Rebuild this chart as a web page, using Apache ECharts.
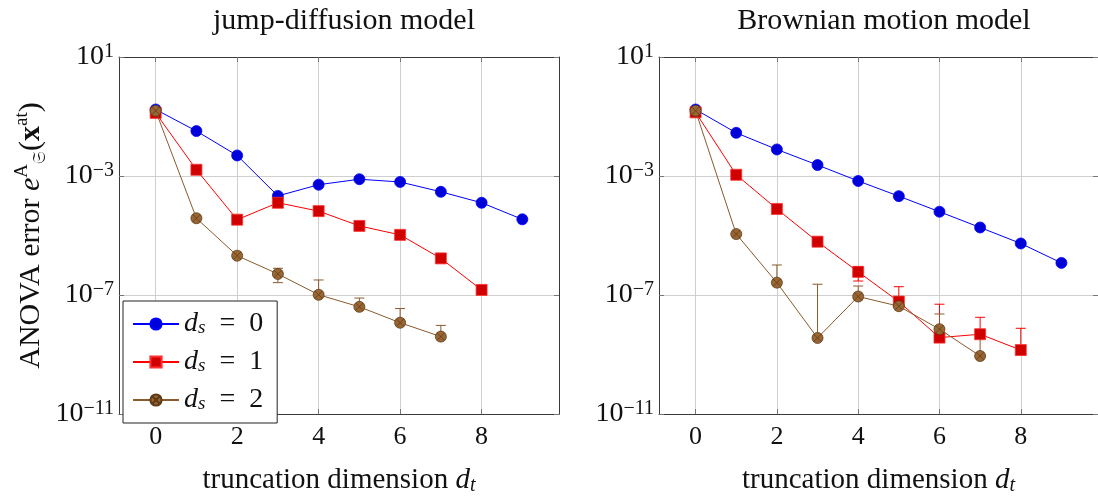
<!DOCTYPE html>
<html>
<head>
<meta charset="utf-8">
<script src="https://cdn.jsdelivr.net/npm/echarts@6/dist/echarts.min.js"></script>
<style>
  html, body { margin: 0; padding: 0; background: #fff; }
  #chart { width: 1098px; height: 501px; }
</style>
</head>
<body>
<div id="chart"></div>
<script>
// truncation dimension d_t
const dims = [0, 1, 2, 3, 4, 5, 6, 7, 8, 9];
const xTicks = [0, 2, 4, 6, 8];
const yTicks = [1e-11, 1e-7, 1e-3, 10];
const seriesNames = ['d_s = 0', 'd_s = 1', 'd_s = 2'];
const panelTitles = ['jump-diffusion model', 'Brownian motion model'];

// jump-diffusion model
const jdDs0 = [0.172, 0.0324, 4.9e-3, 2.14e-4, 5.1e-4, 7.8e-4, 6.3e-4, 2.95e-4, 1.26e-4, 3.5e-5];
const jdDs1 = [0.132, 1.62e-3, 3.4e-5, 1.26e-4, 6.6e-5, 2.1e-5, 1.05e-5, 1.7e-6, 1.48e-7];
const jdDs2 = [0.155, 3.8e-5, 2.1e-6, 5.1e-7, 1.02e-7, 4.0e-8, 1.17e-8, 4.0e-9];
const jdDs2Hi = [null, null, null, 7.9e-7, 3.2e-7, 7.9e-8, 3.5e-8, 9.5e-9];
const jdDs2Lo = [null, null, null, 2.6e-7, null, null, null, null];

// Brownian motion model
const bmDs0 = [0.172, 0.0282, 7.8e-3, 2.34e-3, 6.8e-4, 2.1e-4, 6.3e-5, 1.86e-5, 5.4e-6, 1.2e-6];
const bmDs1 = [0.138, 1.1e-3, 7.8e-5, 6.2e-6, 6.0e-7, 6.0e-8, 3.7e-9, 4.8e-9, 1.41e-9];
const bmDs1Hi = [null, null, null, null, 9.0e-7, 1.9e-7, 4.9e-8, 1.78e-8, 7.6e-9];
const bmDs1Lo = [null, null, null, null, 2.95e-7, null, null, null, null];
const bmDs2 = [0.155, 1.12e-5, 2.6e-7, 3.6e-9, 8.9e-8, 4.2e-8, 7.1e-9, 8.9e-10];
const bmDs2Hi = [null, null, 1.02e-6, 2.3e-7, 2.0e-7, 8.9e-8, 2.3e-8, 5e-9];
const bmDs2Lo = [null, null, null, null, null, null, null, null];

const FONT = "'Liberation Serif', 'DejaVu Serif', serif";
const frameColor = '#3a3a3a';
const gridColor = '#cfcfcf';

const styles = [
  { line: '#0000ff', fill: '#0000d8', border: '#0000ff', symbol: 'circle', size: 11 },
  { line: '#ff0000', fill: '#d00000', border: '#ff3030', symbol: 'rect', size: 11 },
  { line: '#8a5a2b', fill: '#996633', border: '#5e3b18',
    symbol: 'path://M10,5A5,5,0,1,1,0,5A5,5,0,1,1,10,5ZM1.46,1.46L8.54,8.54M8.54,1.46L1.46,8.54', size: 11 }
];

const chart = echarts.init(document.getElementById('chart'), null, { renderer: 'canvas' });

const grids = [
  { left: 119, top: 57, width: 440, height: 363 },
  { left: 659, top: 57, width: 440, height: 363 }
];

function supExp(v) {
  const e = Math.round(Math.log10(v));
  return '{b|10}{p|' + String(e).replace('-', '\u2212') + '}';
}

function xAxes(gi) {
  return [
    {
      type: 'value', gridIndex: gi, min: -0.9, max: 9.9, position: 'bottom',
      axisLine: { show: true, onZero: false, lineStyle: { color: frameColor, width: 1 } },
      axisTick: { show: true, inside: true, length: 5, customValues: xTicks, lineStyle: { color: '#777' } },
      axisLabel: { show: true, customValues: xTicks, margin: 10, fontFamily: FONT, fontSize: 26, color: '#111' },
      splitLine: { show: true, lineStyle: { color: gridColor, width: 1 } },
      name: '{n|truncation dimension }{i|d}{s|t}',
      nameLocation: 'middle', nameGap: 50,
      nameTextStyle: {
        fontFamily: FONT, color: '#111',
        rich: {
          n: { fontFamily: FONT, fontSize: 29, lineHeight: 32, color: '#111' },
          i: { fontFamily: FONT, fontSize: 29, fontStyle: 'italic', lineHeight: 32, color: '#111' },
          s: { fontFamily: FONT, fontSize: 20, fontStyle: 'italic', lineHeight: 16, verticalAlign: 'bottom', color: '#111' }
        }
      }
    },
    {
      type: 'value', gridIndex: gi, min: -0.9, max: 9.9, position: 'top',
      axisLine: { show: true, onZero: false, lineStyle: { color: frameColor, width: 1 } },
      axisTick: { show: true, inside: true, length: 5, customValues: xTicks, lineStyle: { color: '#777' } },
      axisLabel: { show: false },
      splitLine: { show: false }
    }
  ];
}

function yAxes(gi, withName) {
  const main = {
    type: 'log', logBase: 10, gridIndex: gi, min: 1e-11, max: 10, position: 'left',
    axisLine: { show: true, onZero: false, lineStyle: { color: frameColor, width: 1 } },
    axisTick: { show: true, inside: true, length: 5, customValues: yTicks, lineStyle: { color: '#777' } },
    axisLabel: {
      show: true, customValues: yTicks, margin: 5, formatter: supExp,
      rich: {
        b: { fontFamily: FONT, fontSize: 28, lineHeight: 30, color: '#111' },
        p: { fontFamily: FONT, fontSize: 20, lineHeight: 20, verticalAlign: 'top', color: '#111' }
      }
    },
    splitLine: { show: true, lineStyle: { color: gridColor, width: 1 } },
    minorTick: { show: false }
  };
  if (withName) {
    main.name = '{n|ANOVA error }{i|e}{p|A}{s|\u{1D516}}{n|(}{x|x}{p|at}{n|)}';
    main.nameLocation = 'middle';
    main.nameGap = 70;
    main.nameRotate = 90;
    main.nameTextStyle = {
      fontFamily: FONT, color: '#111',
      rich: {
        n: { fontFamily: FONT, fontSize: 30, lineHeight: 36, color: '#111' },
        i: { fontFamily: FONT, fontSize: 30, fontStyle: 'italic', lineHeight: 36, color: '#111' },
        x: { fontFamily: FONT, fontSize: 30, fontWeight: 'bold', lineHeight: 36, color: '#111' },
        p: { fontFamily: FONT, fontSize: 19, lineHeight: 16, verticalAlign: 'top', color: '#111' },
        s: { fontFamily: "'DejaVu Serif', 'DejaVu Sans', serif", fontSize: 18, lineHeight: 16, verticalAlign: 'bottom', color: '#111' }
      }
    };
  }
  return [
    main,
    {
      type: 'log', logBase: 10, gridIndex: gi, min: 1e-11, max: 10, position: 'right',
      axisLine: { show: true, onZero: false, lineStyle: { color: frameColor, width: 1 } },
      axisTick: { show: true, inside: true, length: 5, customValues: yTicks, lineStyle: { color: '#777' } },
      axisLabel: { show: false },
      splitLine: { show: false }
    }
  ];
}

function lineSeries(gi, k, values) {
  const st = styles[k];
  return {
    type: 'line', name: seriesNames[k],
    xAxisIndex: gi * 2, yAxisIndex: gi * 2,
    data: values.map((v, i) => [dims[i], v]),
    symbol: st.symbol, symbolSize: st.size,
    lineStyle: { color: st.line, width: 1 },
    itemStyle: { color: st.fill, borderColor: st.border, borderWidth: 0.8 },
    emphasis: { disabled: true },
    z: 3 + k
  };
}

function errorSeries(gi, k, values, hi, lo) {
  const color = styles[k].line;
  const data = [];
  values.forEach((v, i) => {
    if (hi[i] != null) data.push([dims[i], v, hi[i], lo[i] != null ? lo[i] : '-']);
  });
  return {
    type: 'custom', name: 'err' + gi + k,
    xAxisIndex: gi * 2, yAxisIndex: gi * 2,
    encode: { x: 0, y: [1, 2] },
    data: data,
    z: 2,
    clip: true,
    renderItem: function (params, api) {
      const x = api.value(0);
      const v = api.value(1), h = api.value(2), l = api.value(3);
      const pv = api.coord([x, v]);
      const ph = api.coord([x, h]);
      const cap = 5;
      const st = { stroke: color, lineWidth: 1 };
      const children = [
        { type: 'line', shape: { x1: pv[0], y1: pv[1], x2: ph[0], y2: ph[1] }, style: st },
        { type: 'line', shape: { x1: ph[0] - cap, y1: ph[1], x2: ph[0] + cap, y2: ph[1] }, style: st }
      ];
      if (l > 0) {
        const pl = api.coord([x, l]);
        children.push({ type: 'line', shape: { x1: pv[0], y1: pv[1], x2: pl[0], y2: pl[1] }, style: st });
        children.push({ type: 'line', shape: { x1: pl[0] - cap, y1: pl[1], x2: pl[0] + cap, y2: pl[1] }, style: st });
      }
      return { type: 'group', children: children };
    }
  };
}

const option = {
  animation: false,
  backgroundColor: '#fff',
  title: panelTitles.map((t, i) => ({
    text: t,
    left: grids[i].left + 220,
    textAlign: 'center',
    top: 1,
    textStyle: { fontFamily: FONT, fontSize: 30, fontWeight: 'normal', color: '#111' }
  })),
  grid: grids,
  xAxis: xAxes(0).concat(xAxes(1)),
  yAxis: yAxes(0, true).concat(yAxes(1, false)),
  legend: {
    data: seriesNames,
    orient: 'vertical',
    left: 123, top: 301,
    padding: [9, 14, 9, 9],
    itemGap: 10,
    itemWidth: 46, itemHeight: 14,
    backgroundColor: '#fff',
    borderColor: '#222', borderWidth: 1,
    selectedMode: false,
    formatter: function (name) {
      return '{i|d}{s|s}{n|\u2002=\u2002' + name.slice(-1) + '}';
    },
    textStyle: {
      rich: {
        i: { fontFamily: FONT, fontSize: 28, fontStyle: 'italic', lineHeight: 26, color: '#111' },
        s: { fontFamily: FONT, fontSize: 19, fontStyle: 'italic', lineHeight: 14, verticalAlign: 'bottom', color: '#111' },
        n: { fontFamily: FONT, fontSize: 28, lineHeight: 26, color: '#111' }
      }
    }
  },
  series: [
    errorSeries(0, 2, jdDs2, jdDs2Hi, jdDs2Lo),
    lineSeries(0, 0, jdDs0),
    lineSeries(0, 1, jdDs1),
    lineSeries(0, 2, jdDs2),
    errorSeries(1, 1, bmDs1, bmDs1Hi, bmDs1Lo),
    errorSeries(1, 2, bmDs2, bmDs2Hi, bmDs2Lo),
    lineSeries(1, 0, bmDs0),
    lineSeries(1, 1, bmDs1),
    lineSeries(1, 2, bmDs2)
  ]
};

chart.setOption(option);
</script>
</body>
</html>
